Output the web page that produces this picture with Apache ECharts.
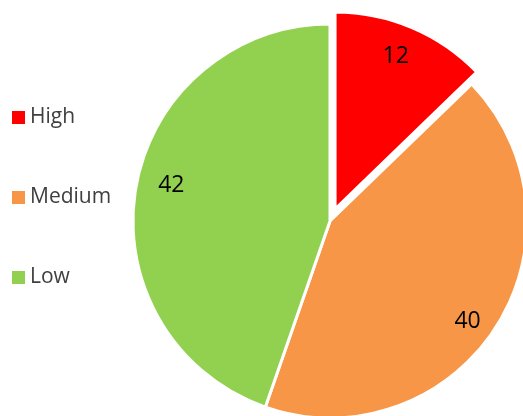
<!DOCTYPE html>
<html>
<head>
<meta charset="utf-8">
<script src="https://cdn.jsdelivr.net/npm/echarts@6/dist/echarts.min.js"></script>
<style>
html,body{margin:0;padding:0;background:#fff;}
#chart{width:523px;height:416px;}
</style>
</head>
<body>
<div id="chart"></div>
<script>
const categories = ['High', 'Medium', 'Low'];
const values = [12, 40, 42];
const colors = ['#FF0000', '#F79646', '#92D050'];
const explodedCategory = 'High';

const chart = echarts.init(document.getElementById('chart'), null, {renderer: 'canvas'});
const FONT = "'Open Sans', sans-serif";
// small label nudges (style only)
const labelNudge = {High: [-5, 2], Medium: [-4, 10], Low: [7, -8]};

const mainData = categories.map((c, i) => ({
  name: c, value: values[i], selected: c === explodedCategory,
  itemStyle: {color: colors[i]}
}));
const labelData = categories.map((c, i) => ({
  name: c, value: values[i], selected: c === explodedCategory,
  label: {offset: labelNudge[c]},
  select: {label: {offset: labelNudge[c]}}
}));

chart.setOption({
  animation: false,
  backgroundColor: '#ffffff',
  legend: {
    orient: 'vertical',
    left: 7,
    top: 102,
    icon: 'rect',
    itemWidth: 13,
    itemHeight: 13,
    itemGap: 59,
    selectedMode: false,
    itemStyle: {borderWidth: 0},
    textStyle: {fontFamily: FONT, fontSize: 21, color: '#404040', lineHeight: 21},
    data: categories.map((c, i) => ({name: c, itemStyle: {color: colors[i], borderWidth: 0}}))
  },
  series: [
    {
      type: 'pie',
      name: 'main',
      center: [330, 221],
      radius: [0, 197],
      startAngle: 90,
      clockwise: true,
      selectedMode: 'single',
      selectedOffset: 13,
      silent: true,
      itemStyle: {borderColor: '#ffffff', borderWidth: 3},
      label: {show: false},
      labelLine: {show: false},
      emphasis: {disabled: true},
      data: mainData
    },
    {
      type: 'pie',
      name: 'labels',
      center: [330, 221],
      radius: [133, 197],
      startAngle: 90,
      clockwise: true,
      selectedMode: 'single',
      selectedOffset: 13,
      silent: true,
      itemStyle: {color: 'rgba(0,0,0,0)', borderWidth: 0},
      label: {show: true, position: 'inner', formatter: '{c}', color: '#000000', fontFamily: FONT, fontSize: 23},
      labelLine: {show: false},
      emphasis: {disabled: true},
      data: labelData
    }
  ]
});
</script>
</body>
</html>
